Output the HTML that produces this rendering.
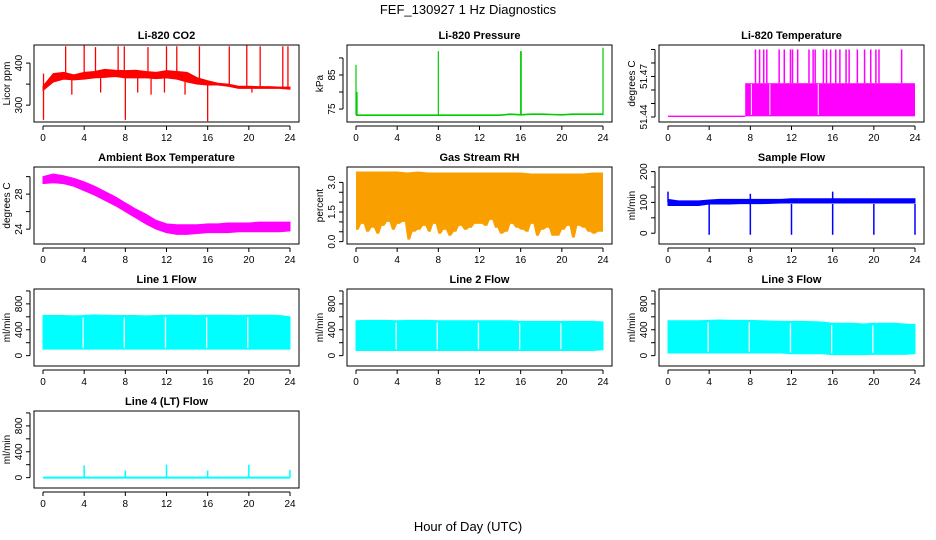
<!DOCTYPE html>
<html><head><meta charset="utf-8"><style>
body{margin:0;background:#fff}
svg{display:block;font-family:"Liberation Sans",sans-serif}
</style></head><body>
<svg id="c" width="936" height="540" viewBox="0 0 936 540">
<text x="468" y="14" text-anchor="middle" font-size="13">FEF_130927  1 Hz Diagnostics</text>
<text x="468" y="531" text-anchor="middle" font-size="13">Hour of Day (UTC)</text>
</svg>
<script>
const hours=[0,1,2,3,4,5,6,7,8,9,10,11,12,13,14,15,16,17,18,19,20,21,22,23,24];
const co2Upper=[345,375,378,372,378,380,385,383,382,383,380,378,382,380,378,365,358,352,350,345,345,344,344,343,343];
const co2Lower=[335,355,362,360,362,365,366,368,365,365,365,363,365,362,355,350,348,348,345,340,340,340,340,340,338];
const co2SpikeT=[0.05,2.2,4,5.1,7.3,7.9,10.2,12,13,15.2,18.1,19.8,21.1,23.3,23.8,0.05,8,16,5.6,2.8,9.2,10.5,11.8,13.8,20.3];
const co2SpikeV=[375,440,442,438,440,440,438,440,440,440,440,442,440,440,440,265,265,262,330,325,330,325,330,325,330];
const presT=[0,0.1,8,16,16.05,24];
const presV=[88,80,92,92,92,93];
const presBase=[73.2,73.2,73.2,73.2,73.2,73.2,73.2,73.2,73.2,73.2,73.2,73.2,73.2,73.2,73.2,73.5,73.3,73.5,73.5,73.4,73.3,73.5,73.5,73.5,73.5];
const tempSpikeT=[8.5,8.9,9.3,9.6,10.8,11.3,11.9,12.1,12.6,13.7,14.1,14.3,15.1,15.4,15.8,16.3,16.7,17.3,17.6,18.4,19.1,19.7,20.2,20.5,22.7];
const ambUpper=[30.0,30.3,30.1,29.8,29.4,28.9,28.3,27.7,27.0,26.3,25.7,25.0,24.6,24.5,24.5,24.5,24.6,24.6,24.7,24.7,24.7,24.8,24.8,24.8,24.8];
const ambLower=[29.2,29.3,29.2,28.9,28.4,27.9,27.3,26.7,26.0,25.3,24.6,24.0,23.6,23.4,23.4,23.5,23.6,23.6,23.6,23.7,23.7,23.7,23.7,23.7,23.8];
const rhLower=[0.6,0.9,0.5,0.7,0.4,0.8,1.0,0.6,0.9,1.0,0.1,0.5,0.6,0.8,0.5,0.9,0.4,0.6,0.3,0.5,0.8,0.6,0.7,0.9,0.9,0.8,1.1,0.7,0.4,0.5,0.9,0.7,0.6,0.5,0.9,0.3,0.6,0.7,0.3,0.3,0.6,0.8,0.2,0.8,0.7,0.5,0.4,0.5,0.5];
const rhUpper=[3.55,3.55,3.55,3.55,3.55,3.5,3.55,3.5,3.5,3.5,3.5,3.5,3.5,3.5,3.5,3.5,3.5,3.45,3.45,3.45,3.45,3.45,3.45,3.5,3.5];
const sfUpper=[110,105,105,105,108,110,110,110,110,110,110,110,112,112,112,112,112,112,112,112,112,112,112,112,112];
const sfLower=[90,90,90,90,95,95,95,96,96,96,97,98,98,98,98,98,98,98,98,98,98,98,98,98,98];
const sfDipT=[4,8,12,16,20,24];
const sfDipV=[-5,-5,-5,-5,-5,-5];
const sfSpikeT=[0,8,16];
const sfSpikeV=[135,128,135];
const gapT=[4,8,12,16,20];
const l1Upper=[620,620,620,615,620,630,625,620,620,620,615,620,625,625,625,620,625,625,625,620,625,625,625,620,600];
const l1Lower=[100,100,100,100,100,100,100,100,100,100,100,100,100,100,100,100,100,100,100,100,100,100,100,100,100];
const l2Upper=[540,545,545,545,540,545,545,545,540,540,540,540,540,540,540,540,530,530,530,530,530,530,530,530,520];
const l2Lower=[80,80,80,80,80,80,80,80,80,80,80,80,80,80,80,80,80,80,80,80,80,80,80,80,90];
const l3Upper=[540,540,540,540,545,550,545,545,545,540,535,530,530,530,525,520,500,500,500,490,500,500,500,490,480];
const l3Lower=[40,40,40,40,40,40,40,40,40,40,40,40,30,30,30,30,15,15,15,15,20,20,20,20,30];
const l4SpikeT=[4,8,12,16,20,24];
const l4SpikeV=[190,110,200,110,200,120];

const svg=document.getElementById('c');
const NS='http://www.w3.org/2000/svg';
function mk(tag,attrs,name){const e=document.createElementNS(NS,tag);for(const k in attrs)e.setAttribute(k,attrs[k]);


svg.appendChild(e);return e;}
const colX=[34,347,659],rowY=[45,167,289,411],W=265,H=77;
function panel(c,r,title,ylab,ymin,ymax,ticks,labels,slug){
  const x0=colX[c],y0=rowY[r];
  const xs=t=>x0+9+t*(W-18)/24;
  const ys=v=>y0+H-(v-ymin)/(ymax-ymin)*H;
  mk('rect',{x:x0,y:y0,width:W,height:H,fill:'none',stroke:'#000','stroke-width':1},slug+'-plot-box');
  const t=mk('text',{x:x0+W/2,y:y0-6,'text-anchor':'middle','font-size':11,'font-weight':'bold'},slug+'-title');t.textContent=title;
  mk('line',{x1:xs(0),x2:xs(24),y1:y0+H+4,y2:y0+H+4,stroke:'#000'},slug+'-x-axis');
  for(let h=0;h<=24;h+=4){
    mk('line',{x1:xs(h),x2:xs(h),y1:y0+H+4,y2:y0+H+8,stroke:'#000'},slug+'-x-tick');
    const tl=mk('text',{x:xs(h),y:y0+H+19,'text-anchor':'middle','font-size':10},slug+'-x-tick-label');tl.textContent=h;
  }
  mk('line',{x1:x0-4,x2:x0-4,y1:ys(ticks[0]),y2:ys(ticks[ticks.length-1]),stroke:'#000'},slug+'-y-axis');
  ticks.forEach(v=>mk('line',{x1:x0-8,x2:x0-4,y1:ys(v),y2:ys(v),stroke:'#000'},slug+'-y-tick'));
  labels.forEach(v=>{const l=mk('text',{x:x0-12,y:ys(v),'text-anchor':'middle','font-size':10,transform:`rotate(-90 ${x0-12} ${ys(v)})`},slug+'-y-tick-label');l.textContent=v;});
  const yl=mk('text',{x:x0-24,y:y0+H/2,'text-anchor':'middle','font-size':10,transform:`rotate(-90 ${x0-24} ${y0+H/2})`},slug+'-y-axis-title');yl.textContent=ylab;
  return {xs,ys};
}
function band(p,up,lo,fill,name){
  let pts=hours.map((h,i)=>p.xs(h)+','+p.ys(up[i]));
  pts=pts.concat(hours.slice().reverse().map((h,j)=>p.xs(h)+','+p.ys(lo[hours.length-1-j])));
  mk('polygon',{points:pts.join(' '),fill:fill,stroke:fill,'stroke-width':1},name);
}
function vl(p,t,a,b,col,w,name){mk('line',{x1:p.xs(t),x2:p.xs(t),y1:p.ys(a),y2:p.ys(b),stroke:col,'stroke-width':w},name);}

let p=panel(0,0,'Li-820 CO2','Licor ppm',260,443,[300,350,400],[300,400],'co2');
band(p,co2Upper,co2Lower,'#f00','co2-band');
co2SpikeT.forEach((t,i)=>vl(p,t,co2Lower[Math.round(t)],co2SpikeV[i],'#f00',1.3,'co2-spike'));
p=panel(1,0,'Li-820 Pressure','kPa',71.2,93.8,[75,80,85,90],[75,85],'pressure');
mk('polyline',{points:hours.map((h,i)=>p.xs(h)+','+p.ys(presBase[i])).join(' '),fill:'none',stroke:'#0c0','stroke-width':1.6},'pressure-line');
presT.forEach((t,i)=>vl(p,t,73.2,presV[i],'#0c0',1.2,'pressure-spike'));
p=panel(2,0,'Li-820 Temperature','degrees C',51.4363,51.4933,[51.44,51.45,51.46,51.47,51.48,51.49],[51.44,51.47],'li-temp');
mk('line',{x1:p.xs(0),x2:p.xs(7.5),y1:p.ys(51.4405),y2:p.ys(51.4405),stroke:'#f0f','stroke-width':1.3},'li-temp-baseline');
mk('rect',{x:p.xs(7.5),y:p.ys(51.465),width:p.xs(24)-p.xs(7.5),height:p.ys(51.4405)-p.ys(51.465),fill:'#f0f'},'li-temp-band');
[8.1,9.9,14.6].forEach(t=>vl(p,t,51.4415,51.4645,'#fff',1,'li-temp-gap'));
tempSpikeT.forEach(t=>vl(p,t,51.465,51.49,'#f0f',1.5,'li-temp-spike'));
p=panel(0,1,'Ambient Box Temperature','degrees C',22.3,31.1,[24,26,28,30],[24,28],'ambient');
band(p,ambUpper,ambLower,'#f0f','ambient-band');
p=panel(1,1,'Gas Stream RH','percent',-0.12,3.78,[0,0.5,1,1.5,2,2.5,3],['0.0','1.5','3.0'],'rh');
{let pts=[];for(let i=0;i<=24;i++)pts.push(p.xs(i)+','+p.ys(rhUpper[i]));
for(let i=48;i>=0;i--){pts.push(p.xs(i/2+0.25>24?24:i/2+0.25)+','+p.ys(rhLower[i]));pts.push(p.xs(i/2)+','+p.ys(rhLower[i]));}
mk('polygon',{points:pts.join(' '),fill:'#f9a000'},'rh-band');}
p=panel(2,1,'Sample Flow','ml/min',-35,215,[0,50,100,150,200],[0,100,200],'sample-flow');
band(p,sfUpper,sfLower,'#00f','sample-flow-band');
sfDipT.forEach((t,i)=>vl(p,t,95,sfDipV[i],'#00f',1.5,'sample-flow-dip'));
sfSpikeT.forEach((t,i)=>vl(p,t,100,sfSpikeV[i],'#00f',1.5,'sample-flow-spike'));
function flow(c,r,title,up,lo,slug){const q=panel(c,r,title,'ml/min',-160,1030,[0,200,400,600,800,1000],[0,400,800],slug);
band(q,up,lo,'#0ff',slug+'-band');gapT.forEach(t=>vl(q,t-0.1,lo[t]+20,up[t]-30,'#fff',1.3,slug+'-gap'));return q;}
flow(0,2,'Line 1 Flow',l1Upper,l1Lower,'line1-flow');
flow(1,2,'Line 2 Flow',l2Upper,l2Lower,'line2-flow');
flow(2,2,'Line 3 Flow',l3Upper,l3Lower,'line3-flow');
p=panel(0,3,'Line 4 (LT) Flow','ml/min',-160,1030,[0,200,400,600,800,1000],[0,400,800],'line4-flow');
mk('line',{x1:p.xs(0),x2:p.xs(24),y1:p.ys(0),y2:p.ys(0),stroke:'#0ff','stroke-width':2},'line4-flow-baseline');
l4SpikeT.forEach((t,i)=>vl(p,t,0,l4SpikeV[i],'#0ff',1.5,'line4-flow-spike'));
</script>
</body></html>
